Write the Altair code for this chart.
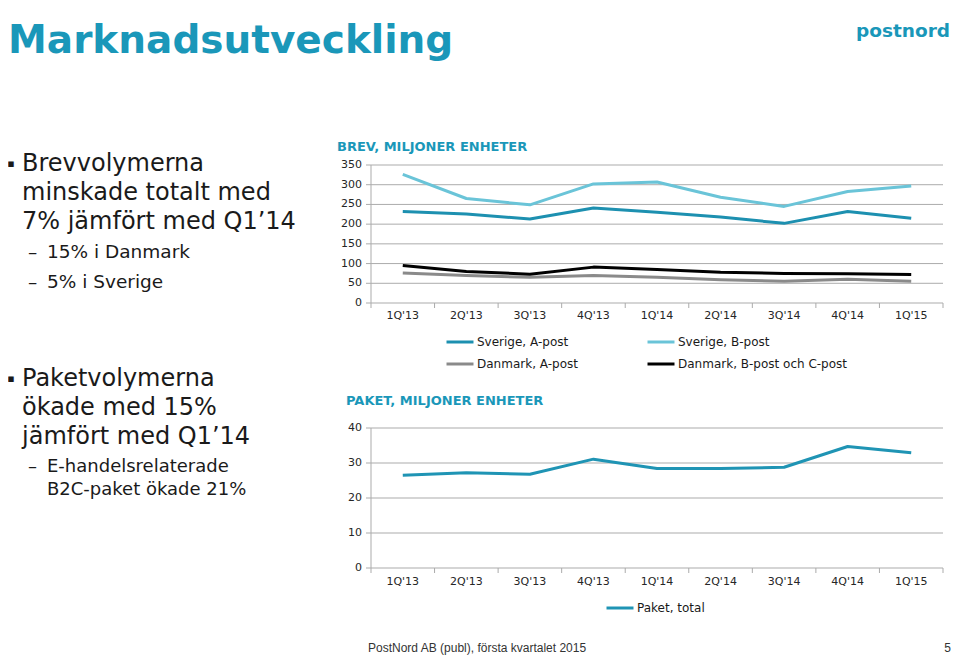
import altair as alt
import pandas as pd

# ---------------- data ----------------
quarters = ["1Q'13", "2Q'13", "3Q'13", "4Q'13", "1Q'14", "2Q'14", "3Q'14", "4Q'14", "1Q'15"]
series_names = ["Sverige, A-post", "Sverige, B-post", "Danmark, A-post", "Danmark, B-post och C-post"]
sverige_a = [232, 226, 213, 241, 230, 218, 202, 232, 215]
sverige_b = [326, 265, 249, 302, 307, 268, 245, 283, 297]
danmark_a = [76, 70, 65, 70, 65, 59, 55, 60, 55]
danmark_bc = [95, 80, 73, 91, 85, 78, 75, 74, 72]
paket_name = ["Paket, total"]
paket_total = [26.5, 27.2, 26.8, 31.1, 28.4, 28.4, 28.8, 34.7, 32.9]
brev_ticks = [0, 50, 100, 150, 200, 250, 300, 350]
paket_ticks = [0, 10, 20, 30, 40]

title = "Marknadsutveckling"
logo = "postnord"
bullet1 = ["Brevvolymerna", "minskade totalt med", "7% jämfört med Q1’14"]
sub1 = ["15% i Danmark", "5% i Sverige"]
bullet2 = ["Paketvolymerna", "ökade med 15%", "jämfört med Q1’14"]
sub2 = ["E-handelsrelaterade", "B2C-paket ökade 21%"]
brev_heading = "BREV, MILJONER ENHETER"
paket_heading = "PAKET, MILJONER ENHETER"
footer = "PostNord AB (publ), första kvartalet 2015"
page_no = "5"

# ---------------- styles ----------------
FONT = "DejaVu Sans"
TEAL = "#1a97b9"
TEXT = "#1a1a1a"
AXTXT = "#262626"
GRID = "#ababab"
series_colors = ["#1d90b0", "#6ac4d8", "#8a8a8a", "#000000"]
paket_color = ["#1f94b4"]

OFF = 8  # page margin


def P(v):
    return v - OFF


# plot geometry (page coords converted to group coords)
X0, X1 = P(371), P(943)
TY0, TY1 = P(303), P(165)
BY0, BY1 = P(568), P(428)

xs = alt.Scale(type="point", domain=quarters, range=[X0, X1], padding=0.5)
xi = alt.Scale(type="linear", domain=[0, len(quarters)], range=[X0, X1], nice=False, zero=False)
ys_top = alt.Scale(domain=[0, 350], range=[TY0, TY1], nice=False, zero=False)
ys_bot = alt.Scale(domain=[0, 40], range=[BY0, BY1], nice=False, zero=False)

one = alt.Data(values=[{}])


def txt(s, x, y, size, color=TEXT, weight="normal", font=FONT, align="left", baseline="alphabetic"):
    return alt.Chart(alt.Data(values=[{"t": s}])).mark_text(
        align=align, baseline=baseline, font=font, fontSize=size, fontWeight=weight, color=color
    ).encode(x=alt.value(P(x)), y=alt.value(P(y)), text=alt.Text("t:N"))


def panel(ticks, ys, y0, y1, label_y):
    tdf = pd.DataFrame({"v": ticks})
    grid = alt.Chart(tdf).mark_rule(color=GRID, strokeWidth=1).encode(
        y=alt.Y("v:Q", scale=ys, axis=None), x=alt.value(X0), x2=alt.value(X1)
    )
    ytick = alt.Chart(tdf).mark_rule(color=GRID, strokeWidth=1).encode(
        y=alt.Y("v:Q", scale=ys, axis=None), x=alt.value(X0 - 5), x2=alt.value(X0)
    )
    ylab = alt.Chart(tdf).mark_text(align="right", baseline="middle", font=FONT, fontSize=11, color=AXTXT).encode(
        y=alt.Y("v:Q", scale=ys, axis=None), x=alt.value(X0 - 9), text=alt.Text("v:Q")
    )
    yaxis = alt.Chart(one).mark_rule(color=GRID, strokeWidth=1).encode(
        x=alt.value(X0), y=alt.value(y1), y2=alt.value(y0)
    )
    idx = pd.DataFrame({"i": list(range(len(quarters) + 1))})
    xtick = alt.Chart(idx).mark_rule(color=GRID, strokeWidth=1).encode(
        x=alt.X("i:Q", scale=xi, axis=None), y=alt.value(y0), y2=alt.value(y0 + 5)
    )
    qdf = pd.DataFrame({"q": quarters})
    xlab = alt.Chart(qdf).mark_text(baseline="middle", font=FONT, fontSize=11, color=AXTXT).encode(
        x=alt.X("q:N", scale=xs, axis=None), y=alt.value(label_y), text=alt.Text("q:N")
    )
    return [grid, ytick, ylab, yaxis, xtick, xlab]


# brev data
rows = []
for name, vals in zip(series_names, [sverige_a, sverige_b, danmark_a, danmark_bc]):
    for i, (q, v) in enumerate(zip(quarters, vals)):
        rows.append({"quarter": q, "series": name, "value": v, "idx": i})
brev_df = pd.DataFrame(rows)
paket_df = pd.DataFrame({"quarter": quarters, "series": paket_name * len(quarters),
                         "value": paket_total, "idx": list(range(len(quarters)))})

brev_lines = alt.Chart(brev_df).mark_line(strokeWidth=3, strokeJoin="round").encode(
    x=alt.X("quarter:N", scale=xs, axis=None),
    y=alt.Y("value:Q", scale=ys_top, axis=None),
    color=alt.Color("series:N", scale=alt.Scale(domain=series_names, range=series_colors),
                    legend=alt.Legend(orient="none", legendX=P(445), legendY=P(327), columns=2,
                                      direction="horizontal",
                                      symbolType="stroke", symbolStrokeWidth=3, symbolSize=729,
                                      labelFont=FONT, labelFontSize=12, labelColor=TEXT, labelOffset=2,
                                      labelLimit=400, columnPadding=63, rowPadding=1, title=None)),
    order=alt.Order("idx:Q"),
)

paket_line = alt.Chart(paket_df).mark_line(strokeWidth=3, strokeJoin="round").encode(
    x=alt.X("quarter:N", scale=xs, axis=None),
    y=alt.Y("value:Q", scale=ys_bot, axis=None),
    color=alt.Color("series:N", scale=alt.Scale(domain=paket_name, range=paket_color),
                    legend=alt.Legend(orient="none", legendX=P(605), legendY=P(593),
                                      symbolType="stroke", symbolStrokeWidth=3, symbolSize=729,
                                      labelFont=FONT, labelFontSize=12, labelColor=TEXT, labelOffset=2,
                                      title=None)),
    order=alt.Order("idx:Q"),
)

layers = []
layers += panel(brev_ticks, ys_top, TY0, TY1, P(316))
layers += panel(paket_ticks, ys_bot, BY0, BY1, P(582))
layers += [brev_lines, paket_line]

# texts
layers.append(txt(title, 8, 53, 39, color=TEAL, weight="bold"))
layers.append(txt(logo, 950, 37, 18.5, color=TEAL, weight="bold", align="right"))
layers.append(txt(brev_heading, 337, 151, 13, color=TEAL, weight="bold"))
layers.append(txt(paket_heading, 346, 405, 13, color=TEAL, weight="bold"))

for i, s in enumerate(bullet1):
    layers.append(txt(s, 22, 171 + 29 * i, 24))
for i, s in enumerate(sub1):
    layers.append(txt("–", 28, 258 + 30 * i, 18.5))
    layers.append(txt(s, 47, 258 + 30 * i, 18.5))
for i, s in enumerate(bullet2):
    layers.append(txt(s, 22, 386 + 29 * i, 24))
layers.append(txt("–", 28, 472, 18))
for i, s in enumerate(sub2):
    layers.append(txt(s, 47, 472 + 23 * i, 18))
layers.append(txt("▪", 11, 164, 11, baseline="middle", align="center"))
layers.append(txt("▪", 11, 379, 11, baseline="middle", align="center"))

layers.append(txt(footer, 368, 652, 12, color="#333333", font="Liberation Sans"))
layers.append(txt(page_no, 951, 652, 12, color="#333333", font="Liberation Sans", align="right"))

chart = alt.layer(*layers).resolve_scale(x="independent", y="independent", color="independent").properties(
    width=944, height=647, autosize=alt.AutoSizeParams(type="none"), padding=0
).configure_view(stroke=None)

chart.save("out.html", embed_options={"renderer": "svg", "actions": False})
